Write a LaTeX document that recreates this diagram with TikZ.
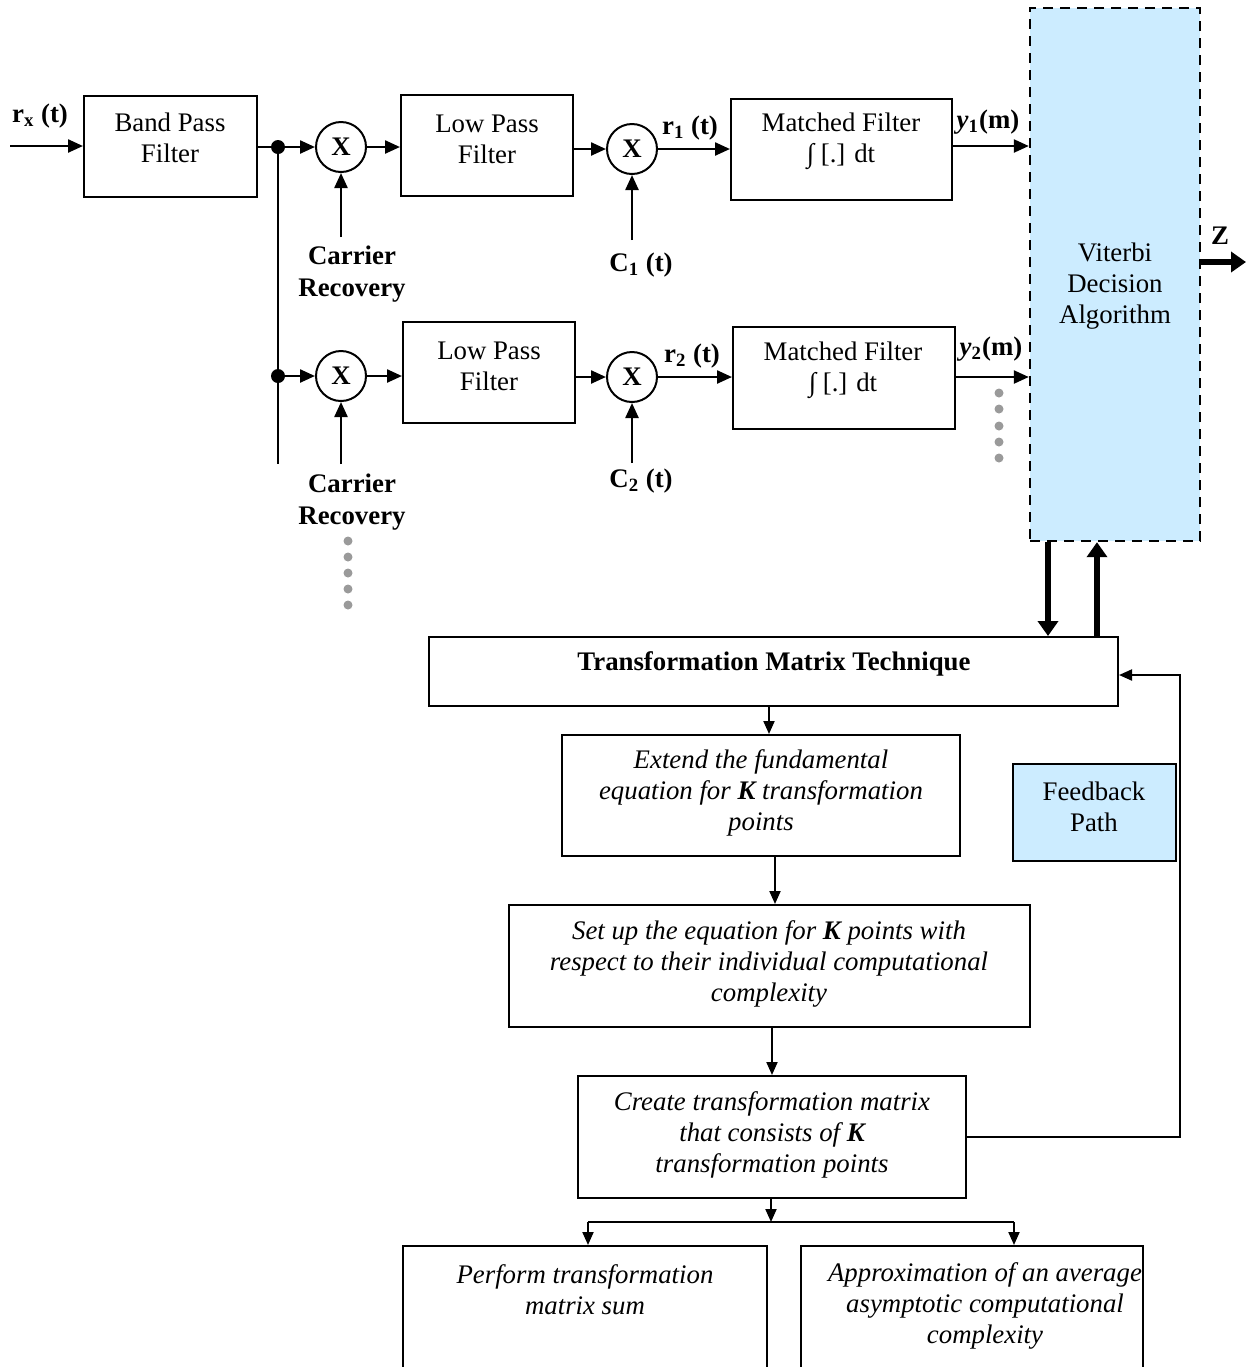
\documentclass[tikz,border=0pt]{standalone}
\usepackage{fontspec}
\setmainfont{Liberation Serif}
\usetikzlibrary{arrows.meta,fit}
\definecolor{lblue}{HTML}{CCECFF}
\definecolor{dotgray}{HTML}{9A9A9A}
\begin{document}
\begin{tikzpicture}[x=0.5pt,y=-0.5pt,
  font=\fontsize{13.4}{15.6}\selectfont,
  box/.style={draw, line width=1pt, inner sep=0pt},
  txt/.style={align=center, inner sep=0pt},
  sig/.style={line width=1.2pt, -{Triangle[length=7.5pt,width=6.5pt]}},
  thk/.style={line width=3pt, -{Triangle[length=7.5pt,width=10pt]}},
  thn/.style={line width=1pt, -{Triangle[length=6.5pt,width=5.5pt]}},
  mult/.style={circle, draw, line width=1pt, minimum size=25pt, inner sep=0pt, font=\fontsize{13.4}{15.6}\selectfont\bfseries},
  jdot/.style={circle, fill, inner sep=0pt, minimum size=7pt},
  gdot/.style={circle, fill=dotgray, inner sep=0pt, minimum size=4.5pt},
  lbl/.style={font=\fontsize{13.4}{15.6}\selectfont\bfseries, inner sep=0pt, align=center}
]
\useasboundingbox (0,0) rectangle (1246,1367);

% ---------- Viterbi ----------
\node[fit={(1030,8)(1200,541)}, draw, fill=lblue, line width=1.2pt, dash pattern=on 5pt off 3.5pt, inner sep=0pt] (vit) {};
\node[txt] (vitt) at (1115,286) {Viterbi\\Decision\\Algorithm};

% ---------- Row 1 ----------
\coordinate (in1) at (10,146);
\node[lbl] (rx) at (40,116) {r\textsubscript{x} (t)};
\node[box, fit={(84,96)(257,197)}] (bpf) {};
\node[txt] (bpft) at (170,138) {Band Pass\\Filter};
\node[jdot] (j1) at (278,147) {};
\node[mult] (m1) at (341,147) {X};
\node[box, fit={(401,95)(573,196)}] (lpf1) {};
\node[txt] (lpf1t) at (487,139) {Low Pass\\Filter};
\node[mult] (m2) at (632,149) {X};
\node[box, fit={(731,99)(952,200)}] (mf1) {};
\node[txt] (mf1t) at (841,141) {Matched Filter\\∫ [.] dt};
\node[lbl] (r1) at (690,128) {r\textsubscript{1} (t)};
\node[lbl] (y1) at (988,122) {\textit{y}\textsubscript{1}(m)};
\node[lbl] (c1) at (641,265) {C\textsubscript{1} (t)};
\node[lbl] (cr1) at (352,274) {Carrier\\Recovery};
\coordinate (c1s) at (632,240);
\coordinate (cr1s) at (341,237);

\draw[sig] (in1) -- (in1 -| bpf.west);
\draw[line width=1.2pt] (bpf.east |- j1) -- (j1.center);
\draw[sig] (j1.center) -- (m1.west);
\draw[sig] (m1.east) -- (m1.east -| lpf1.west);
\draw[sig] (lpf1.east |- m2) -- (m2.west);
\draw[sig] (m2.east) -- (m2.east -| mf1.west);
\draw[sig] (mf1.east |- 0,146) -- (vit.west |- 0,146);
\draw[sig] (c1s) -- (m2.south);
\draw[sig] (cr1s) -- (m1.south);

% bus
\coordinate (busend) at (278,464);
\node[jdot] (j2) at (278,376) {};
\draw[line width=1.2pt] (j1.center) -- (busend);

% ---------- Row 2 ----------
\node[mult] (m3) at (341,376) {X};
\node[box, fit={(403,322)(575,423)}] (lpf2) {};
\node[txt] (lpf2t) at (489,366) {Low Pass\\Filter};
\node[mult] (m4) at (632,377) {X};
\node[box, fit={(733,327)(955,429)}] (mf2) {};
\node[txt] (mf2t) at (843,370) {Matched Filter\\∫ [.] dt};
\node[lbl] (r2) at (692,356) {r\textsubscript{2} (t)};
\node[lbl] (y2) at (991,349) {\textit{y}\textsubscript{2}(m)};
\node[lbl] (c2) at (641,481) {C\textsubscript{2} (t)};
\node[lbl] (cr2) at (352,502) {Carrier\\Recovery};
\coordinate (c2s) at (632,463);
\coordinate (cr2s) at (341,464);

\draw[sig] (j2.center) -- (m3.west);
\draw[sig] (m3.east) -- (m3.east -| lpf2.west);
\draw[sig] (lpf2.east |- m4) -- (m4.west);
\draw[sig] (m4.east) -- (m4.east -| mf2.west);
\draw[sig] (mf2.east |- 0,377) -- (vit.west |- 0,377);
\draw[sig] (c2s) -- (m4.south);
\draw[sig] (cr2s) -- (m3.south);

% dots
\foreach \yy in {541,557,573,589,605} \node[gdot] at (348,\yy) {};
\foreach \yy in {393,409,426,442,458} \node[gdot] at (999,\yy) {};

% Z output
\node[lbl] (z) at (1220,236) {Z};
\coordinate (zend) at (1246,262);
\draw[thk] (vit.east |- zend) -- (zend);

% ---------- Lower flow ----------
\node[box, fit={(429,637)(1118,706)}] (tmt) {};
\node[txt, font=\fontsize{13.4}{15.6}\selectfont\bfseries] (tmtt) at (774,664) {Transformation Matrix Technique};

\coordinate (dn) at (1048,0);
\coordinate (up) at (1097,0);
\draw[thk] (dn |- vit.south) -- (dn |- tmt.north);
\draw[thk] (up |- tmt.north) -- (up |- vit.south);

\node[box, fit={(562,735)(960,856)}] (ext) {};
\node[txt, font=\fontsize{13.4}{15.6}\selectfont\itshape] (extt) at (761,793) {Extend the fundamental\\equation for \textbf{K} transformation\\points};

\node[box, fit={(509,905)(1030,1027)}] (setup) {};
\node[txt, font=\fontsize{13.4}{15.6}\selectfont\itshape] (setupt) at (769,964) {Set up the equation for \textbf{K} points with\\respect to their individual computational\\complexity};

\node[box, fit={(578,1076)(966,1198)}] (create) {};
\node[txt, font=\fontsize{13.4}{15.6}\selectfont\itshape] (createt) at (772,1135) {Create transformation matrix\\that consists of \textbf{K}\\transformation points};

\node[box, fill=lblue, fit={(1013,764)(1176,861)}] (fbp) {};
\node[txt] (fbpt) at (1094,807) {Feedback\\Path};

\coordinate (a1) at (769,0);
\coordinate (a2) at (775,0);
\coordinate (a3) at (772,0);
\draw[thn] (a1 |- tmt.south) -- (a1 |- ext.north);
\draw[thn] (a2 |- ext.south) -- (a2 |- setup.north);
\draw[thn] (a3 |- setup.south) -- (a3 |- create.north);

\coordinate (fb) at (1180,675);
\draw[thn] (create.east) -| (fb) -- (fb -| tmt.east);

% split
\coordinate (sp) at (771,1222);
\coordinate (la) at (588,1222);
\coordinate (ra) at (1014,1222);
\draw[thn] (sp |- create.south) -- (sp);
\draw[line width=1pt] (la) -- (ra);

\begin{scope}
\clip (0,0) rectangle (1246,1367);
\node[box, fit={(403,1246)(767,1400)}] (perf) {};
\node[box, fit={(801,1246)(1143,1400)}] (appr) {};
\end{scope}
\node[txt, font=\fontsize{13.4}{15.6}\selectfont\itshape] (perft) at (585,1290) {Perform transformation\\matrix sum};
\node[txt, font=\fontsize{13.4}{15.6}\selectfont\itshape] (apprt) at (985,1306) {Approximation of an average\\asymptotic computational\\complexity};

\draw[thn] (la) -- (la |- perf.north);
\draw[thn] (ra) -- (ra |- appr.north);
\end{tikzpicture}
\end{document}
